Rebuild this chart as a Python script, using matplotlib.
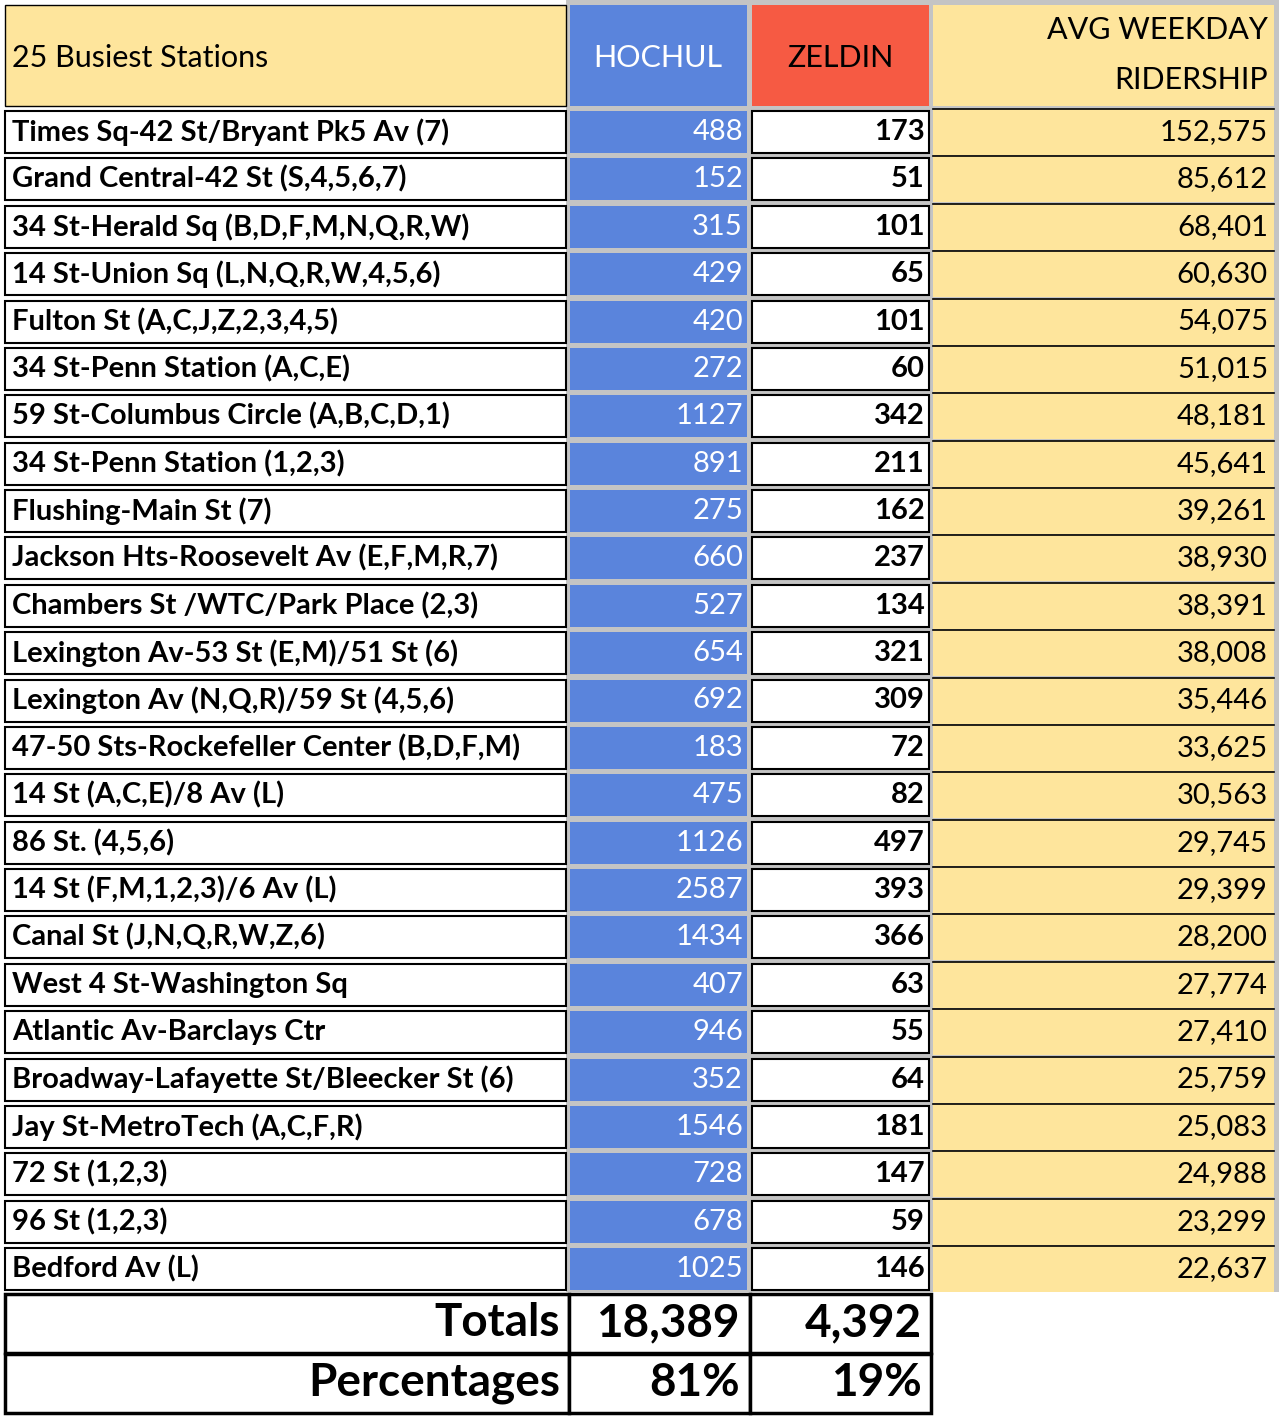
import matplotlib
matplotlib.use("Agg")
import matplotlib.pyplot as plt
from matplotlib.patches import Rectangle

stations = ["Times Sq-42 St/Bryant Pk5 Av (7)","Grand Central-42 St (S,4,5,6,7)","34 St-Herald Sq (B,D,F,M,N,Q,R,W)",
"14 St-Union Sq (L,N,Q,R,W,4,5,6)","Fulton St (A,C,J,Z,2,3,4,5)","34 St-Penn Station (A,C,E)","59 St-Columbus Circle (A,B,C,D,1)",
"34 St-Penn Station (1,2,3)","Flushing-Main St (7)","Jackson Hts-Roosevelt Av (E,F,M,R,7)","Chambers St /WTC/Park Place (2,3)",
"Lexington Av-53 St (E,M)/51 St (6)","Lexington Av (N,Q,R)/59 St (4,5,6)","47-50 Sts-Rockefeller Center (B,D,F,M)",
"14 St (A,C,E)/8 Av (L)","86 St. (4,5,6)","14 St (F,M,1,2,3)/6 Av (L)","Canal St (J,N,Q,R,W,Z,6)","West 4 St-Washington Sq",
"Atlantic Av-Barclays Ctr","Broadway-Lafayette St/Bleecker St (6)","Jay St-MetroTech (A,C,F,R)","72 St (1,2,3)","96 St (1,2,3)","Bedford Av (L)"]
hochul = [488,152,315,429,420,272,1127,891,275,660,527,654,692,183,475,1126,2587,1434,407,946,352,1546,728,678,1025]
zeldin = [173,51,101,65,101,60,342,211,162,237,134,321,309,72,82,497,393,366,63,55,64,181,147,59,146]
ridership = [152575,85612,68401,60630,54075,51015,48181,45641,39261,38930,38391,38008,35446,33625,30563,29745,29399,28200,27774,27410,25759,25083,24988,23299,22637]
totals = ["18,389","4,392"]
percentages = ["81%","19%"]

W, H = 1279, 1416
fig = plt.figure(figsize=(W/100, H/100), dpi=100)
ax = fig.add_axes([0,0,1,1]); ax.set_xlim(0,W); ax.set_ylim(H,0); ax.axis("off")
FONT = "Lato"
BLUE, RED, YEL, GRAY = "#5a84dc", "#f65a43", "#fee59c", "#c4c4c4"
cols = [(5,566),(570,747),(752,929),(933,1274)]

def rect(x0,x1,y0,y1,fc,ec="black",lw=1.5,z=1):
    ax.add_patch(Rectangle((x0,y0),x1-x0,y1-y0,facecolor=fc,edgecolor=ec,lw=lw,zorder=z))

# gray backdrop
rect(566,1279,0,1293,GRAY,ec="none",z=0)
# header
rect(5,566,5,106,YEL,lw=1)
rect(570,747,5,106,BLUE,ec="none")
rect(752,929,5,106,RED,ec="none")
rect(933,1274,5,106,YEL,ec="none")
ax.text(12,58,"25 Busiest Stations",fontsize=22,family=FONT,va="center")
ax.text(658,58,"HOCHUL",fontsize=22,family=FONT,va="center",ha="center",color="white")
ax.text(840,58,"ZELDIN",fontsize=22,family=FONT,va="center",ha="center")
ax.text(1268,30,"AVG WEEKDAY",fontsize=22,family=FONT,va="center",ha="right")
ax.text(1268,80,"RIDERSHIP",fontsize=22,family=FONT,va="center",ha="right")

pitch = (1248-111)/24
for i in range(len(stations)):
    y0 = 111 + i*pitch; y1 = y0 + 42; yc = (y0+y1)/2
    rect(5,566,y0,y1,"white")
    rect(570,747,y0,y1,BLUE,ec="none")
    rect(752,929,y0,y1,"white")
    rect(933,1274,y0-2,y1+2,YEL,ec="none")
    ax.plot([933,1274],[y0-2,y0-2],color="black",lw=1.2,zorder=2)
    ax.text(12,yc,stations[i],fontsize=21,family=FONT,weight="bold",va="center")
    ax.text(743,yc,str(hochul[i]),fontsize=21,family=FONT,va="center",ha="right",color="white")
    ax.text(925,yc,str(zeldin[i]),fontsize=21,family=FONT,weight="bold",va="center",ha="right")
    ax.text(1268,yc,f"{ridership[i]:,}",fontsize=21,family=FONT,va="center",ha="right")

# totals
rect(0,1279,1292,1416,"white",ec="none",z=1)
for (y0,y1,lab,vals) in [(1294,1353,"Totals",totals),(1354,1413,"Percentages",percentages)]:
    yc=(y0+y1)/2
    rect(5,569,y0,y1,"white",lw=2.5,z=2)
    rect(569,750,y0,y1,"white",lw=2.5,z=2)
    rect(750,931,y0,y1,"white",lw=2.5,z=2)
    ax.text(560,yc,lab,fontsize=33,family=FONT,weight="bold",va="center",ha="right",zorder=3)
    ax.text(740,yc,vals[0],fontsize=33,family=FONT,weight="bold",va="center",ha="right",zorder=3)
    ax.text(922,yc,vals[1],fontsize=33,family=FONT,weight="bold",va="center",ha="right",zorder=3)

fig.savefig("out.png",dpi=100)
